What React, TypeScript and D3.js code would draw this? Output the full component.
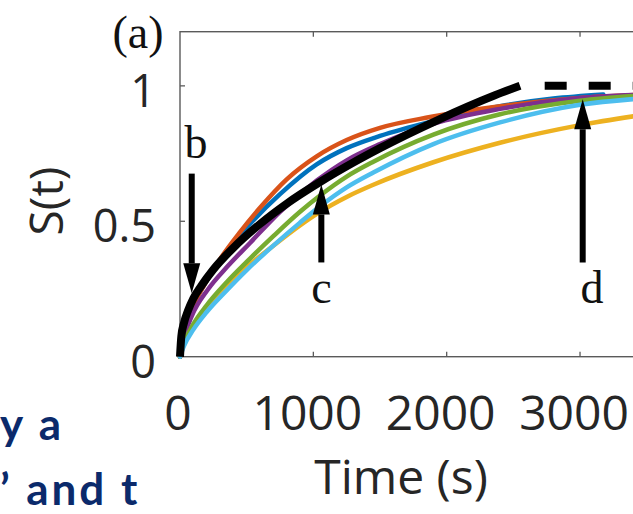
import React from 'react';
import * as d3 from 'd3';

// ---- data ----
const xTicks = [0, 1000, 2000, 3000];
const yTicks = [0, 0.5, 1];
const yTickLabels = ['0', '0.5', '1'];

const blueT = [0, 30, 100, 200, 350, 525, 750, 1025, 1250, 1500, 1900, 2400, 2800, 3175];
const blueS = [0, 0.1, 0.19, 0.28, 0.39, 0.49, 0.6, 0.71, 0.77, 0.815, 0.87, 0.925, 0.953, 0.968];
const orangeT = [0, 30, 100, 200, 300, 450, 600, 800, 1025, 1250, 1500, 1875, 2400, 3000, 3500];
const orangeS = [0, 0.1, 0.19, 0.28, 0.36, 0.46, 0.55, 0.655, 0.74, 0.8, 0.845, 0.885, 0.925, 0.955, 0.968];
const yellowT = [0, 30, 100, 200, 350, 500, 700, 900, 1050, 1250, 1450, 1900, 2400, 3000, 3500];
const yellowS = [0, 0.05, 0.115, 0.18, 0.26, 0.33, 0.41, 0.485, 0.535, 0.59, 0.635, 0.718, 0.79, 0.855, 0.895];
const purpleT = [0, 30, 88, 212, 350, 525, 750, 1025, 1250, 1500, 1900, 2400, 3000, 3500];
const purpleS = [0, 0.07, 0.15, 0.25, 0.33, 0.42, 0.535, 0.65, 0.725, 0.785, 0.86, 0.915, 0.955, 0.968];
const greenT = [0, 30, 100, 200, 350, 500, 700, 900, 1050, 1250, 1450, 1900, 2400, 3000, 3500];
const greenS = [0, 0.05, 0.12, 0.19, 0.275, 0.35, 0.445, 0.535, 0.595, 0.665, 0.72, 0.82, 0.895, 0.945, 0.966];
const lightBlueT = [0, 30, 100, 200, 350, 500, 700, 900, 1050, 1250, 1450, 1900, 2400, 3000, 3500];
const lightBlueS = [0, 0.04, 0.1, 0.165, 0.245, 0.32, 0.41, 0.495, 0.555, 0.625, 0.68, 0.785, 0.865, 0.93, 0.955];

const fitT = [0, 10, 30, 60, 100, 160, 250, 400, 600, 800, 1050, 1300, 1500, 1925, 2362, 2550];
const fitS = [0, 0.075, 0.125, 0.17, 0.215, 0.262, 0.322, 0.402, 0.49, 0.565, 0.645, 0.717, 0.77, 0.872, 0.965, 1.0];
const plateauT = [2570, 3500];
const plateauS = [1, 1];

// annotation arrows: label, time, tail S, tip S
const arrowLabels = ['b', 'c', 'd'];
const arrowT = [88, 1060, 3020];
const arrowTailS = [0.676, 0.348, 0.348];
const arrowTipS = [0.234, 0.636, 0.951];
const labelT = [120, 1060, 3090];
const labelS = [0.735, 0.197, 0.197];

const seriesColors = ['#0072BD', '#D95319', '#EDB120', '#7E2F8E', '#77AC30', '#4DBEEE'];
const seriesT = [blueT, orangeT, yellowT, purpleT, greenT, lightBlueT];
const seriesS = [blueS, orangeS, yellowS, purpleS, greenS, lightBlueS];

export default function App() {
  const x = d3.scaleLinear().domain([0, 3500]).range([180, 646.7]);
  const y = d3.scaleLinear().domain([0, 1.2]).range([356.7, 31.7]);
  const line = d3
    .line<[number, number]>()
    .x((d) => x(d[0]))
    .y((d) => y(d[1]))
    .curve(d3.curveMonotoneX);
  const zip = (t: number[], s: number[]) => t.map((v, i) => [v, s[i]] as [number, number]);

  const axisColor = '#5a5a5a';
  const textColor = '#262626';
  const sans = "'Open Sans', 'Noto Sans', sans-serif";
  const serif = "'Liberation Serif', 'DejaVu Serif', serif";

  const headW = 17;
  const headH = 30;

  return (
    <svg
      width={633}
      height={514}
      style={{ position: 'absolute', left: 0, top: 0, background: '#fff' }}
    >
      <rect x={0} y={0} width={633} height={514} fill="#fff" />
      {/* axes box */}
      <rect
        x={x(0)}
        y={y(1.2)}
        width={x(3500) - x(0)}
        height={y(0) - y(1.2)}
        fill="none"
        stroke={axisColor}
        strokeWidth={1.4}
      />
      {xTicks.slice(1).map((t) => (
        <g key={'xt' + t}>
          <line x1={x(t)} x2={x(t)} y1={y(0)} y2={y(0) - 5} stroke={axisColor} strokeWidth={1.3} />
          <line x1={x(t)} x2={x(t)} y1={y(1.2)} y2={y(1.2) + 5} stroke={axisColor} strokeWidth={1.3} />
        </g>
      ))}
      {yTicks.slice(1).map((v) => (
        <line key={'yt' + v} x1={x(0)} x2={x(0) + 5} y1={y(v)} y2={y(v)} stroke={axisColor} strokeWidth={1.3} />
      ))}

      {/* series */}
      {seriesT.map((t, i) => (
        <path
          key={'s' + i}
          d={line(zip(t, seriesS[i])) || ''}
          fill="none"
          stroke={seriesColors[i]}
          strokeWidth={4.5}
          strokeLinecap="round"
          strokeLinejoin="round"
        />
      ))}
      {/* fit line */}
      <path d={line(zip(fitT, fitS)) || ''} fill="none" stroke="#000" strokeWidth={8} strokeLinecap="butt" />
      <path
        d={line(zip(plateauT, plateauS)) || ''}
        fill="none"
        stroke="#000"
        strokeWidth={8}
        strokeDasharray="22 22"
        strokeDashoffset={22}
      />

      {/* arrows */}
      {arrowT.map((t, i) => {
        const ax = x(t);
        const tail = y(arrowTailS[i]);
        const tip = y(arrowTipS[i]);
        const dir = tip > tail ? 1 : -1;
        const base = tip - dir * headH;
        return (
          <g key={'a' + i}>
            <line x1={ax} x2={ax} y1={tail} y2={base} stroke="#000" strokeWidth={6} />
            <polygon
              points={`${ax - headW / 2},${base} ${ax + headW / 2},${base} ${ax},${tip}`}
              fill="#000"
            />
          </g>
        );
      })}
      {arrowLabels.map((l, i) => (
        <text
          key={'l' + l}
          x={x(labelT[i])}
          y={y(labelS[i])}
          textAnchor="middle"
          fontFamily={serif}
          fontSize={46}
          fill="#111"
        >
          {l}
        </text>
      ))}

      {/* tick labels */}
      {xTicks.map((t) => (
        <text
          key={'xl' + t}
          x={x(t) - (t === 0 ? 2 : 6)}
          y={430}
          textAnchor="middle"
          fontFamily={sans}
          fontSize={48}
          fill={textColor}
        >
          {t}
        </text>
      ))}
      {yTicks.map((v, i) => (
        <text
          key={'yl' + v}
          x={156}
          y={y(v) + 21}
          textAnchor="end"
          fontFamily={sans}
          fontSize={45}
          fill={textColor}
        >
          {yTickLabels[i]}
        </text>
      ))}
      <text x={401} y={494} textAnchor="middle" fontFamily={sans} fontSize={48} fill={textColor}>
        Time (s)
      </text>
      <text
        transform="translate(63,201) rotate(-90)"
        textAnchor="middle"
        fontFamily={sans}
        fontSize={46}
        fill={textColor}
      >
        S(t)
      </text>
      <text x={138} y={48} textAnchor="middle" fontFamily={serif} fontSize={46} fill="#111">
        (a)
      </text>

      {/* fragment of surrounding slide text */}
      <text x={0} y={440} fontFamily="Lato, sans-serif" fontWeight={700} fontSize={44} fill="#0b2a6b" letterSpacing={3}>
        y a
      </text>
      <text x={0} y={505} fontFamily="Lato, sans-serif" fontWeight={700} fontSize={44} fill="#0b2a6b" letterSpacing={3}>
        ’ and t
      </text>
    </svg>
  );
}
